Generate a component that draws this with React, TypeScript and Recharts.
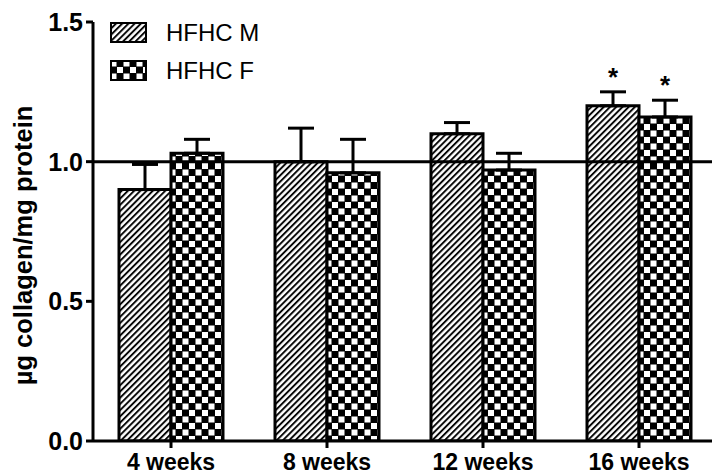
import { BarChart, Bar, XAxis, YAxis, ErrorBar, ReferenceLine, Legend, LabelList, Label } from 'recharts';

const weeks = ['4 weeks', '8 weeks', '12 weeks', '16 weeks'];
const maleMean = [0.9, 1.0, 1.1, 1.2];
const maleSem = [0.09, 0.12, 0.04, 0.05];
const maleSig = [false, false, false, true];
const femaleMean = [1.03, 0.96, 0.97, 1.16];
const femaleSem = [0.05, 0.12, 0.06, 0.06];
const femaleSig = [false, false, false, true];
const yTicks = [0, 0.5, 1.0, 1.5];

const seriesNames = ['HFHC M', 'HFHC F'];
const seriesFills = ['url(#hatch)', 'url(#checker)'];

const data = weeks.map((week, i) => ({
  week,
  male: maleMean[i],
  maleErr: [0, maleSem[i]],
  female: femaleMean[i],
  femaleErr: [0, femaleSem[i]],
}));

const FONT = '"Liberation Sans", Arial, Helvetica, sans-serif';

// asterisk over the error bar cap for significant groups
const starLabel = (sem: number[], sig: boolean[]) => (props: any) => {
  const { x, y, width, height, value, index } = props;
  if (!sig[index] || !value) return null;
  const pxPerUnit = Number(height) / Number(value);
  const capY = Number(y) - sem[index] * pxPerUnit;
  return (
    <text
      x={Number(x) + Number(width) / 2}
      y={capY - 6}
      textAnchor="middle"
      fontSize={26}
      fontWeight="bold"
      fontFamily={FONT}
      fill="#000"
    >
      *
    </text>
  );
};

// legend keeps the series order (M first, then F)
const renderLegend = () => (
  <div style={{ fontFamily: FONT }}>
    {seriesNames.map((name, i) => (
      <div key={name} style={{ display: 'flex', alignItems: 'center', height: 38 }}>
        <svg width={38} height={22} style={{ marginRight: 18 }}>
          <rect x={1} y={1} width={35} height={19} fill={seriesFills[i]} stroke="#000" strokeWidth={2} />
        </svg>
        <span style={{ fontSize: 24, color: '#000' }}>{name}</span>
      </div>
    ))}
  </div>
);

export default function App() {
  return (
    <div style={{ position: 'absolute', left: 0, top: 0, width: 712, height: 475, overflow: 'hidden', background: '#fff' }}>
      <BarChart
        width={717}
        height={475}
        data={data}
        margin={{ top: 22, right: 0, left: 0, bottom: 0 }}
        barCategoryGap={26}
        barGap={0}
        style={{ fontFamily: FONT }}
      >
        <defs>
          <pattern id="hatch" patternUnits="userSpaceOnUse" width={4.4} height={4.4} patternTransform="rotate(45)">
            <rect width={4.4} height={4.4} fill="#fff" />
            <line x1={1} y1={0} x2={1} y2={4.4} stroke="#000" strokeWidth={1.9} />
          </pattern>
          <pattern id="checker" patternUnits="userSpaceOnUse" width={13} height={13}>
            <rect width={13} height={13} fill="#000" />
            <rect x={0.5} y={0.5} width={6} height={6} fill="#fff" />
            <rect x={7} y={7} width={6} height={6} fill="#fff" />
          </pattern>
        </defs>
        <XAxis
          dataKey="week"
          height={34}
          axisLine={{ stroke: '#000', strokeWidth: 3 }}
          tickLine={{ stroke: '#000', strokeWidth: 3 }}
          tickSize={7}
          tickMargin={6}
          tick={{ fill: '#000', fontSize: 23, fontWeight: 'bold' }}
        />
        <YAxis
          width={93}
          domain={[0, 1.5]}
          ticks={yTicks}
          allowDataOverflow
          axisLine={{ stroke: '#000', strokeWidth: 3 }}
          tickLine={{ stroke: '#000', strokeWidth: 3 }}
          tickSize={7}
          tickMargin={3}
          tickFormatter={(v: number) => v.toFixed(1)}
          tick={{ fill: '#000', fontSize: 25, fontWeight: 'bold' }}
        >
          <Label
            content={(p: any) => {
              const cy = p.viewBox.y + p.viewBox.height / 2 + 14;
              return (
                <text
                  x={32}
                  y={cy}
                  transform={`rotate(-90, 32, ${cy})`}
                  textAnchor="middle"
                  fontSize={25.5}
                  fontWeight="bold"
                  fontFamily={FONT}
                  fill="#000"
                >
                  µg collagen/mg protein
                </text>
              );
            }}
          />
        </YAxis>
        <Legend
          layout="vertical"
          align="center"
          verticalAlign="middle"
          content={renderLegend}
          wrapperStyle={{ left: 110, top: 14, width: 'auto', height: 'auto' }}
        />
        <Bar dataKey="male" name={seriesNames[0]} fill={seriesFills[0]} stroke="#000" strokeWidth={3} isAnimationActive={false}>
          <ErrorBar dataKey="maleErr" width={13} stroke="#000" strokeWidth={3} direction="y" />
          <LabelList dataKey="male" content={starLabel(maleSem, maleSig)} />
        </Bar>
        <Bar dataKey="female" name={seriesNames[1]} fill={seriesFills[1]} stroke="#000" strokeWidth={3} isAnimationActive={false}>
          <ErrorBar dataKey="femaleErr" width={13} stroke="#000" strokeWidth={3} direction="y" />
          <LabelList dataKey="female" content={starLabel(femaleSem, femaleSig)} />
        </Bar>
        <ReferenceLine y={1} stroke="#000" strokeWidth={3} />
      </BarChart>
    </div>
  );
}
